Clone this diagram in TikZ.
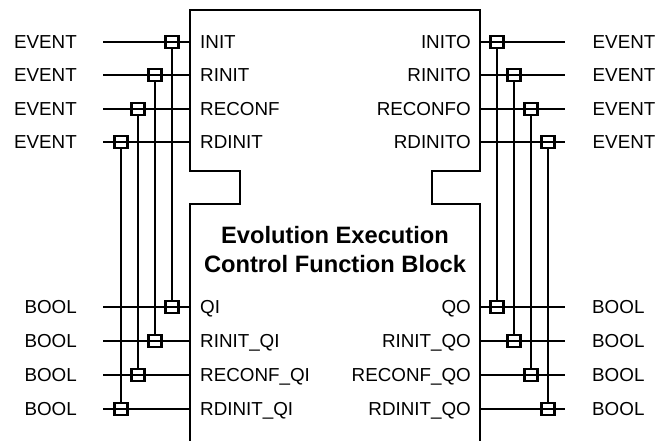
\documentclass[tikz,border=0pt]{standalone}
\usepackage{fontspec}
\setmainfont{Liberation Sans}
\begin{document}
\begin{tikzpicture}[x=1pt,y=-1pt,
  wire/.style={line width=2.6pt},
  blockline/.style={line width=2.7pt,line join=miter},
  sq/.style={draw,line width=2.3pt,rectangle,minimum width=13.2pt,minimum height=11.8pt,inner sep=0pt},
  lbl/.style={inner sep=0pt,font=\fontsize{18.8}{22}\selectfont},
  ttl/.style={inner sep=0pt,font=\fontsize{23.7}{29}\selectfont\bfseries}]
\useasboundingbox (0,0) rectangle (655,441);
% block outline
\draw[blockline] (190,441) -- (190,204) -- (240,204) -- (240,171) -- (190,171) -- (190,10)
  -- (480,10) -- (480,171) -- (432,171) -- (432,204) -- (480,204) -- (480,441);
% title
\node[ttl,anchor=base] (title1) at (335,243) {Evolution Execution};
\node[ttl,anchor=base] (title2) at (335,272) {Control Function Block};
% wires, squares and type labels
\foreach \i/\yt/\yb/\xl/\xr in {1/42/307/172/497,2/75/341/155/514,3/109/375/138/531,4/142/409/121/548}{
  % left top
  \coordinate (LTa\i) at (103,\yt);
  \coordinate (LTb\i) at (190,\yt);
  \node[lbl,anchor=base east] (LTtype\i) at (77,\yt+6.7) {EVENT};
  \draw[wire] (LTa\i) -- (LTb\i);
  \node[sq] (LTs\i) at (\xl,\yt) {};
  % left bottom
  \coordinate (LBa\i) at (103,\yb);
  \coordinate (LBb\i) at (190,\yb);
  \node[lbl,anchor=base east] (LBtype\i) at (77,\yb+6.7) {BOOL};
  \draw[wire] (LBa\i) -- (LBb\i);
  \node[sq] (LBs\i) at (\xl,\yb) {};
  \draw[wire] (LTs\i.south) -- (LBs\i.north);
  % right top
  \coordinate (RTa\i) at (480,\yt);
  \coordinate (RTb\i) at (565,\yt);
  \node[lbl,anchor=base west] (RTtype\i) at (592.5,\yt+6.7) {EVENT};
  \draw[wire] (RTa\i) -- (RTb\i);
  \node[sq] (RTs\i) at (\xr,\yt) {};
  % right bottom
  \coordinate (RBa\i) at (480,\yb);
  \coordinate (RBb\i) at (565,\yb);
  \node[lbl,anchor=base west] (RBtype\i) at (592,\yb+6.7) {BOOL};
  \draw[wire] (RBa\i) -- (RBb\i);
  \node[sq] (RBs\i) at (\xr,\yb) {};
  \draw[wire] (RTs\i.south) -- (RBs\i.north);
}
% port names
\foreach \i/\yt/\lab in {1/42/INIT,2/75/RINIT,3/109/RECONF,4/142/RDINIT}{
  \node[lbl,anchor=base west] (pLT\i) at (200,\yt+6.7) {\lab};
}
\foreach \i/\yb/\lab in {1/307/QI,2/341/RINIT\_QI,3/375/RECONF\_QI,4/409/RDINIT\_QI}{
  \node[lbl,anchor=base west] (pLB\i) at (200,\yb+6.7) {\lab};
}
\foreach \i/\yt/\lab in {1/42/INITO,2/75/RINITO,3/109/RECONFO,4/142/RDINITO}{
  \node[lbl,anchor=base east] (pRT\i) at (471,\yt+6.7) {\lab};
}
\foreach \i/\yb/\lab in {1/307/QO,2/341/RINIT\_QO,3/375/RECONF\_QO,4/409/RDINIT\_QO}{
  \node[lbl,anchor=base east] (pRB\i) at (471,\yb+6.7) {\lab};
}
\end{tikzpicture}
\end{document}
